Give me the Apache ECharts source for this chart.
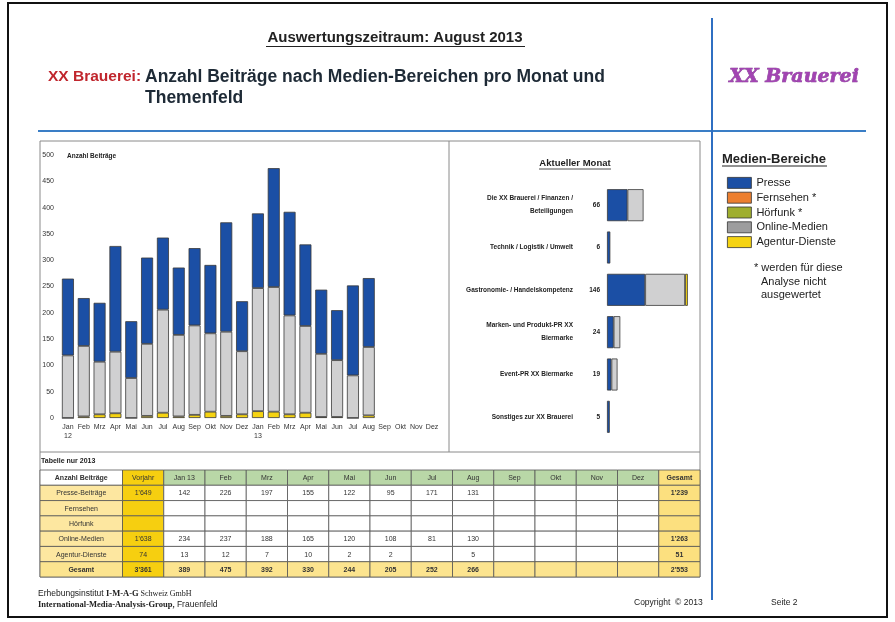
<!DOCTYPE html>
<html>
<head>
<meta charset="utf-8">
<script src="https://cdn.jsdelivr.net/npm/echarts@6/dist/echarts.min.js"></script>
<style>
  html, body { margin: 0; padding: 0; background: #fff; }
  #chart { width: 895px; height: 622px; }
</style>
</head>
<body>
<div id="chart"></div>
<script>
// monthly values, 2012, 2013 from the table
var monthLabels = ['Jan\n12','Feb','Mrz','Apr','Mai','Jun','Jul','Aug','Sep','Okt','Nov','Dez',
                   'Jan\n13','Feb','Mrz','Apr','Mai','Jun','Jul','Aug','Sep','Okt','Nov','Dez'];
var presse2012  = [146, 91, 112, 201, 108, 164, 137, 128, 147, 130, 208, 95];
var online2012  = [119, 134, 100, 117, 76, 137, 196, 155, 170, 149, 160, 120];
var agentur2012 = [0, 3, 7, 9, 0, 4, 10, 3, 6, 12, 4, 7];
var presse2013  = [142, 226, 197, 155, 122, 95, 171, 131];
var online2013  = [234, 237, 188, 165, 120, 108, 81, 130];
var agentur2013 = [13, 12, 7, 10, 2, 2, null, 5];

// table
var tableMonths = ['Jan 13','Feb','Mrz','Apr','Mai','Jun','Jul','Aug','Sep','Okt','Nov','Dez'];
var tableRows = ['Presse-Beiträge','Fernsehen','Hörfunk','Online-Medien','Agentur-Dienste','Gesamt'];
var vorjahr = [1649, null, null, 1638, 74, 3361];

// current month by topic
var themen = ['Die XX Brauerei / Finanzen /\nBeteiligungen', 'Technik / Logistik / Umwelt',
              'Gastronomie- / Handelskompetenz', 'Marken- und Produkt-PR XX\nBiermarke',
              'Event-PR XX Biermarke', 'Sonstiges zur XX Brauerei'];
var themenPresse  = [37, 6, 69, 12, 8, 5];
var themenOnline  = [29, 0, 72, 12, 11, 0];
var themenAgentur = [0, 0, 5, 0, 0, 0];

var starred = ['Fernsehen', 'Hörfunk'];

var colors = {
  'Presse': '#1b4fa5',
  'Fernsehen': '#ec7f30',
  'Hörfunk': '#9fae2e',
  'Online-Medien': '#d0d0d1',
  'Agentur-Dienste': '#f5d312'
};

var FONT = '"Liberation Sans", Arial, sans-serif';

function fmt(v) {
  if (v === null || v === undefined) return '';
  return String(v).replace(/\B(?=(\d{3})+(?!\d))/g, "'");
}
function sum(a) { return a.reduce(function (s, v) { return s + (v || 0); }, 0); }

var themenTotal = themen.map(function (t, i) {
  return themenPresse[i] + themenOnline[i] + themenAgentur[i];
});

// table cells
var tableCells = [];
var header = ['Anzahl Beiträge', 'Vorjahr'].concat(tableMonths, ['Gesamt']);
header.forEach(function (h, c) { tableCells.push({ row: 0, col: c, text: h }); });
var rowValues = [presse2013, [], [], online2013, agentur2013];
var monthTotals = presse2013.map(function (v, i) {
  return v + online2013[i] + (agentur2013[i] || 0);
});
rowValues.push(monthTotals);
tableRows.forEach(function (name, r) {
  var vals = rowValues[r];
  tableCells.push({ row: r + 1, col: 0, text: name });
  tableCells.push({ row: r + 1, col: 1, text: fmt(vorjahr[r]) });
  for (var m = 0; m < 12; m++) {
    tableCells.push({ row: r + 1, col: m + 2, text: fmt(vals[m]) });
  }
  tableCells.push({ row: r + 1, col: 14, text: vals.length ? fmt(sum(vals)) : '' });
});

function cellFill(row, col) {
  if (col === 1) return '#f6cf10';
  if (col === 14) return '#fce07f';
  if (row === 0) return col === 0 ? '#ffffff' : '#b9d7a7';
  if (row === 6) return '#fce48f';
  if (col === 0) return '#fde7a0';
  return '#ffffff';
}

function renderCell(params, api) {
  var c = tableCells[params.dataIndex];
  var x0 = c.col === 0 ? 0 : c.col + 1;
  var p0 = api.coord([x0, c.row]);
  var p1 = api.coord([c.col + 2, c.row + 1]);
  var bold = c.row === 6 || c.col === 14 || (c.row === 0 && c.col === 0);
  return {
    type: 'group',
    children: [{
      type: 'rect',
      shape: { x: p0[0], y: p0[1], width: p1[0] - p0[0], height: p1[1] - p0[1] },
      style: { fill: cellFill(c.row, c.col), stroke: '#555', lineWidth: 0.8 }
    }, {
      type: 'text',
      style: {
        x: (p0[0] + p1[0]) / 2, y: (p0[1] + p1[1]) / 2 + 0.5,
        text: c.text, textAlign: 'center', textVerticalAlign: 'middle',
        font: (bold ? 'bold ' : '') + '7px ' + FONT,
        fill: '#333'
      }
    }]
  };
}

var barBorder = { borderColor: '#3a3a3a', borderWidth: 0.8 };
function style(name) {
  return Object.assign({ color: colors[name] }, barBorder);
}
function nz(a) { return a.map(function (v) { return v || null; }); }

var chartDom = document.getElementById('chart');
var myChart = echarts.init(chartDom);

var option = {
  animation: false,
  textStyle: { fontFamily: FONT },
  legend: {
    orient: 'vertical',
    left: 722,
    top: 172,
    icon: 'rect',
    itemWidth: 24,
    itemHeight: 11,
    itemGap: 3,
    itemStyle: { borderColor: '#333', borderWidth: 0.8 },
    textStyle: { fontSize: 11, color: '#222' },
    formatter: function (name) { return starred.indexOf(name) >= 0 ? name + ' *' : name; },
    data: ['Presse', 'Fernsehen', 'Hörfunk',
           { name: 'Online-Medien', itemStyle: { color: '#9d9d9e' } }, 'Agentur-Dienste'],
    selectedMode: false
  },
  grid: [
    { left: 60, right: 455, top: 155, bottom: 204 },
    { left: 607, right: 195, top: 184, height: 254 },
    { left: 40, right: 195, top: 470, height: 107 }
  ],
  xAxis: [
    { gridIndex: 0, type: 'category', data: monthLabels,
      axisLine: { show: false }, axisTick: { show: false },
      axisLabel: { fontSize: 7, color: '#333', margin: 5, interval: 0, lineHeight: 9 } },
    { gridIndex: 1, type: 'value', min: 0, max: 168, show: false },
    { gridIndex: 2, type: 'value', min: 0, max: 16, show: false }
  ],
  yAxis: [
    { gridIndex: 0, type: 'value', min: 0, max: 500, interval: 50,
      axisLine: { show: false }, axisTick: { show: false }, splitLine: { show: false },
      axisLabel: { fontSize: 7, color: '#333', margin: 6 } },
    { gridIndex: 1, type: 'category', inverse: true, data: themen,
      axisLine: { show: false }, axisTick: { show: false },
      axisLabel: { fontSize: 6.5, fontWeight: 'bold', color: '#222', margin: 34, lineHeight: 13, align: 'right' } },
    { gridIndex: 2, type: 'value', min: 0, max: 7, inverse: true, show: false }
  ],
  series: [
    { name: 'Agentur-Dienste', type: 'bar', stack: 'monat', barWidth: 12,
      data: agentur2012.concat(agentur2013.map(function (v) { return v || 0; })),
      itemStyle: style('Agentur-Dienste') },
    { name: 'Fernsehen', type: 'bar', stack: 'monat', data: [], itemStyle: style('Fernsehen') },
    { name: 'Hörfunk', type: 'bar', stack: 'monat', data: [], itemStyle: style('Hörfunk') },
    { name: 'Online-Medien', type: 'bar', stack: 'monat',
      data: online2012.concat(online2013), itemStyle: style('Online-Medien') },
    { name: 'Presse', type: 'bar', stack: 'monat',
      data: presse2012.concat(presse2013), itemStyle: style('Presse') },

    { name: 'Presse', type: 'bar', xAxisIndex: 1, yAxisIndex: 1, stack: 'thema', barWidth: 32,
      data: themenPresse, itemStyle: style('Presse'),
      label: { show: true, position: 'left', distance: 7, fontSize: 6.5, fontWeight: 'bold', color: '#222',
               formatter: function (p) { return themenTotal[p.dataIndex]; } } },
    { name: 'Online-Medien', type: 'bar', xAxisIndex: 1, yAxisIndex: 1, stack: 'thema',
      data: nz(themenOnline), itemStyle: style('Online-Medien') },
    { name: 'Agentur-Dienste', type: 'bar', xAxisIndex: 1, yAxisIndex: 1, stack: 'thema',
      data: nz(themenAgentur), itemStyle: style('Agentur-Dienste') },

    { type: 'custom', xAxisIndex: 2, yAxisIndex: 2, renderItem: renderCell, silent: true,
      data: tableCells.map(function (c) { return [c.col + 1, c.row + 0.5]; }) }
  ],
  graphic: [
    // page frame and rules
    { type: 'rect', z: -10, shape: { x: 8, y: 3, width: 879, height: 614 },
      style: { fill: 'none', stroke: '#111', lineWidth: 2 } },
    { type: 'line', shape: { x1: 38, y1: 131, x2: 866, y2: 131 }, style: { stroke: '#3a7ec6', lineWidth: 2 } },
    { type: 'line', shape: { x1: 712, y1: 18, x2: 712, y2: 600 }, style: { stroke: '#2f6fc2', lineWidth: 2 } },
    { type: 'rect', z: -5, shape: { x: 40, y: 141, width: 660, height: 436 },
      style: { fill: 'none', stroke: '#8a8a8a', lineWidth: 1 } },
    { type: 'line', shape: { x1: 449, y1: 141, x2: 449, y2: 452 }, style: { stroke: '#8a8a8a', lineWidth: 1 } },
    { type: 'line', shape: { x1: 40, y1: 452, x2: 700, y2: 452 }, style: { stroke: '#8a8a8a', lineWidth: 1 } },

    // header
    { type: 'text', style: { x: 395, y: 38, text: 'Auswertungszeitraum: August 2013', textAlign: 'center',
      textVerticalAlign: 'middle', font: 'bold 15px ' + FONT, fill: '#222' } },
    { type: 'line', shape: { x1: 266, y1: 46.5, x2: 525, y2: 46.5 }, style: { stroke: '#222', lineWidth: 1 } },
    { type: 'text', style: { x: 48, y: 77, text: 'XX Brauerei:', textVerticalAlign: 'middle',
      font: 'bold 15.5px ' + FONT, fill: '#c0262d' } },
    { type: 'text', style: { x: 145, y: 77, text: 'Anzahl Beiträge nach Medien-Bereichen pro Monat und',
      textVerticalAlign: 'middle', font: 'bold 17.5px ' + FONT, fill: '#1e2a36' } },
    { type: 'text', style: { x: 145, y: 98, text: 'Themenfeld', textVerticalAlign: 'middle',
      font: 'bold 17.5px ' + FONT, fill: '#1e2a36' } },
    { type: 'text', style: { x: 794, y: 77, text: 'XX Brauerei', textAlign: 'center', textVerticalAlign: 'middle',
      font: 'italic bold 19px "DejaVu Serif", serif', fill: '#a244b2', stroke: '#7a2d8a', lineWidth: 0.6 } },

    // chart captions
    { type: 'text', style: { x: 67, y: 156, text: 'Anzahl Beiträge', textVerticalAlign: 'middle',
      font: 'bold 6.5px ' + FONT, fill: '#222' } },
    { type: 'text', style: { x: 575, y: 163, text: 'Aktueller Monat', textAlign: 'center', textVerticalAlign: 'middle',
      font: 'bold 9.5px ' + FONT, fill: '#222' } },
    { type: 'line', shape: { x1: 539, y1: 169, x2: 611, y2: 169 }, style: { stroke: '#222', lineWidth: 0.8 } },
    { type: 'text', style: { x: 41, y: 461, text: 'Tabelle nur 2013', textVerticalAlign: 'middle',
      font: 'bold 7px ' + FONT, fill: '#222' } },

    // legend side
    { type: 'text', style: { x: 722, y: 159, text: 'Medien-Bereiche', textVerticalAlign: 'middle',
      font: 'bold 13px ' + FONT, fill: '#222' } },
    { type: 'line', shape: { x1: 722, y1: 166, x2: 827, y2: 166 }, style: { stroke: '#222', lineWidth: 1 } },
    { type: 'text', style: { x: 754, y: 268, text: '* werden für diese', textVerticalAlign: 'middle',
      font: '11px ' + FONT, fill: '#222' } },
    { type: 'text', style: { x: 761, y: 282, text: 'Analyse nicht', textVerticalAlign: 'middle',
      font: '11px ' + FONT, fill: '#222' } },
    { type: 'text', style: { x: 761, y: 295, text: 'ausgewertet', textVerticalAlign: 'middle',
      font: '11px ' + FONT, fill: '#222' } },

    // footer
    { type: 'text', style: { x: 38, y: 594, textVerticalAlign: 'middle',
      text: '{a|Erhebungsinstitut }{b|I-M-A-G}{c| Schweiz GmbH}',
      rich: { a: { font: '8.5px ' + FONT, fill: '#222' },
              b: { font: 'bold 8.5px "Liberation Serif", serif', fill: '#222' },
              c: { font: '8px "Liberation Serif", serif', fill: '#222' } } } },
    { type: 'text', style: { x: 38, y: 605, textVerticalAlign: 'middle',
      text: '{b|International-Media-Analysis-Group,}{a| Frauenfeld}',
      rich: { a: { font: '8.5px ' + FONT, fill: '#222' },
              b: { font: 'bold 8.5px "Liberation Serif", serif', fill: '#222' } } } },
    { type: 'text', style: { x: 634, y: 603, text: 'Copyright  © 2013', textVerticalAlign: 'middle',
      font: '8.5px ' + FONT, fill: '#222' } },
    { type: 'text', style: { x: 771, y: 603, text: 'Seite 2', textVerticalAlign: 'middle',
      font: '8.5px ' + FONT, fill: '#222' } }
  ]
};

option && myChart.setOption(option);
</script>
</body>
</html>
